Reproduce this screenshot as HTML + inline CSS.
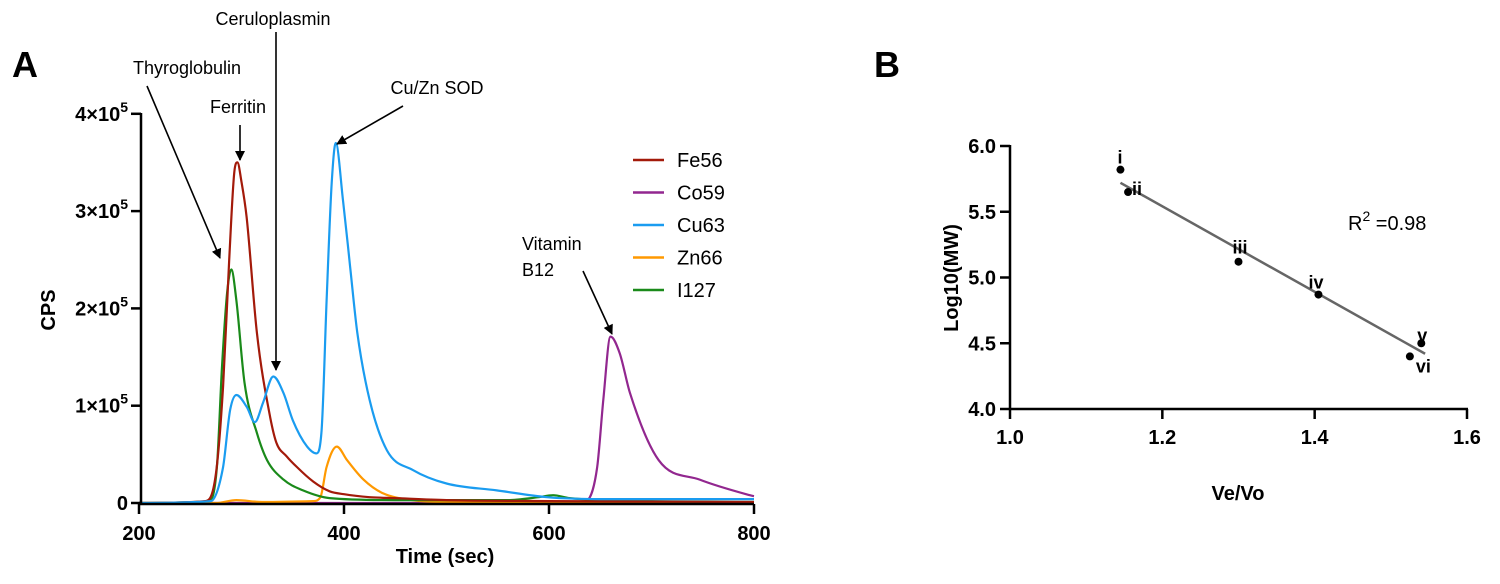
<!DOCTYPE html>
<html><head><meta charset="utf-8"><style>
body{margin:0;background:#fff;}
svg{display:block;font-family:"Liberation Sans",Arial,sans-serif;}
</style></head><body>
<svg id="chart" width="1500" height="584" viewBox="0 0 1500 584"></svg>
<script>
// ---- Panel A data (time s, CPS in units of 1e5) ----
const feT=[200,265,275,282,288,293,296,300,305,315,328,334,344,354,370,386,400,425,450,500,600,800];
const feV=[0,0.02,0.3,1.2,2.5,3.4,3.5,3.3,2.94,1.75,0.88,0.62,0.48,0.37,0.22,0.12,0.09,0.06,0.05,0.03,0.02,0.01];
const iT=[200,268,276,281,286,290,295,303,315,325,341,360,386,450,560,590,604,620,700,800];
const iV=[0,0.02,0.37,1.4,2.16,2.4,2.08,1.23,0.72,0.44,0.24,0.13,0.05,0.03,0.03,0.06,0.08,0.05,0.02,0.01];
const cuT=[200,270,282,289,295,305,313,321,331,341,350,364,373,378,383,388,392,399,406,413,425,442,467,500,549,598,650,800];
const cuV=[0,0.02,0.37,0.96,1.11,0.99,0.83,1.03,1.3,1.13,0.85,0.58,0.51,0.72,2.08,3.29,3.7,3.11,2.43,1.75,1.06,0.54,0.34,0.2,0.13,0.06,0.04,0.04];
const znT=[200,275,295,320,370,377,383,393,403,419,438,467,500,800];
const znV=[0,0,0.03,0.01,0.02,0.06,0.37,0.58,0.44,0.24,0.1,0.03,0.01,0.005];
const coT=[200,630,637,647,653,660,669,679,707,747,796,800];
const coV=[0,0,0.02,0.37,1.06,1.71,1.54,1.13,0.44,0.24,0.08,0.07];
const xTicksA=[200,400,600,800];
const yTicksA=[0,1,2,3,4];
// ---- Panel B data ----
const ptX=[1.145,1.155,1.30,1.405,1.54,1.525];
const ptY=[5.82,5.65,5.12,4.87,4.50,4.40];
const ptLabels=["i","ii","iii","iv","v","vi"];
const fitX=[1.145,1.545];
const fitY=[5.72,4.42];
const xTicksB=[1.0,1.2,1.4,1.6];
const yTicksB=[4.0,4.5,5.0,5.5,6.0];

const NS="http://www.w3.org/2000/svg";
const svg=document.getElementById('chart');
function mk(tag,attrs,parent){const e=document.createElementNS(NS,tag);for(const k in attrs)e.setAttribute(k,attrs[k]);(parent||svg).appendChild(e);return e;}
function txt(s,attrs,parent){const e=mk('text',attrs,parent);e.textContent=s;return e;}

const defs=mk('defs',{});
const mkr=mk('marker',{id:'ah',markerWidth:'10',markerHeight:'10',refX:'9',refY:'5',orient:'auto',markerUnits:'userSpaceOnUse'},defs);
mk('path',{d:'M0,0 L10,5 L0,10 z',fill:'#000'},mkr);

const xA=t=>139+(t-200)*1.025;
const yA=v=>503-v*97.3;

const gA=mk('g',{});


let l=txt('A',{x:12,y:77,'font-size':36,'font-weight':'bold'},gA);


// monotone cubic path
function monoPath(X,Y){
  const n=X.length,d=[],m=[];
  for(let i=0;i<n-1;i++)d.push((Y[i+1]-Y[i])/(X[i+1]-X[i]));
  m[0]=d[0];m[n-1]=d[n-2];
  for(let i=1;i<n-1;i++){m[i]=(d[i-1]*d[i]<=0)?0:(d[i-1]+d[i])/2;}
  for(let i=0;i<n-1;i++){if(d[i]===0){m[i]=0;m[i+1]=0;continue;}
    const a=m[i]/d[i],b=m[i+1]/d[i],s=a*a+b*b;if(s>9){const t=3/Math.sqrt(s);m[i]=t*a*d[i];m[i+1]=t*b*d[i];}}
  let p='M'+X[0].toFixed(1)+','+Y[0].toFixed(1);
  for(let i=0;i<n-1;i++){const h=(X[i+1]-X[i])/3;
    p+='C'+(X[i]+h).toFixed(1)+','+(Y[i]+m[i]*h).toFixed(1)+' '+(X[i+1]-h).toFixed(1)+','+(Y[i+1]-m[i+1]*h).toFixed(1)+' '+X[i+1].toFixed(1)+','+Y[i+1].toFixed(1);}
  return p;
}
function series(T,V,color,name){
  const p=mk('path',{d:monoPath(T.map(xA),V.map(yA)),fill:'none',stroke:color,'stroke-width':2.2,'stroke-linejoin':'round'},gA);
  
  
}
series(coT,coV,'#92278f','series-co59');
series(znT,znV,'#ff9900','series-zn66');
series(iT,iV,'#1a8a1a','series-i127');
series(feT,feV,'#a31a0a','series-fe56');
series(cuT,cuV,'#1a9cf0','series-cu63');

let ax=mk('line',{x1:141,y1:113,x2:141,y2:505,stroke:'#000','stroke-width':2.5},gA);

ax=mk('line',{x1:139,y1:504,x2:754,y2:504,stroke:'#000','stroke-width':2.5},gA);

xTicksA.forEach(t=>{
  mk('line',{x1:xA(t),y1:504,x2:xA(t),y2:514,stroke:'#000','stroke-width':2.5},gA);
  const e=txt(String(t),{x:xA(t),y:540,'font-size':20,'font-weight':'bold','text-anchor':'middle'},gA);
  
});
yTicksA.forEach(v=>{
  mk('line',{x1:131,y1:yA(v),x2:141,y2:yA(v),stroke:'#000','stroke-width':2.5},gA);
  const e=txt('',{x:128,y:yA(v)+7,'font-size':20,'font-weight':'bold','text-anchor':'end'},gA);
  
  if(v===0){e.textContent='0';}
  else{e.textContent=v+'×10';const s=mk('tspan',{dy:-9,'font-size':14},e);s.textContent='5';}
});
l=txt('Time (sec)',{x:445,y:563,'font-size':20,'font-weight':'bold','text-anchor':'middle'},gA);

l=txt('CPS',{x:0,y:0,'font-size':20,'font-weight':'bold','text-anchor':'middle',transform:'translate(55,310) rotate(-90)'},gA);


function ann(label,lines,tx,ty,x1,y1,x2,y2,anchor){
  const g=mk('g',{},gA);
  
  
  lines.forEach((s,i)=>txt(s,{x:tx,y:ty+i*26,'font-size':18,'text-anchor':anchor||'middle'},g));
  mk('line',{x1:x1,y1:y1,x2:x2,y2:y2,stroke:'#000','stroke-width':1.6,'marker-end':'url(#ah)'},g);
}
ann('annotation-thyroglobulin',['Thyroglobulin'],187,74,147,86,220,258);
ann('annotation-ferritin',['Ferritin'],238,113,240,125,240,160);
ann('annotation-ceruloplasmin',['Ceruloplasmin'],273,25,276,32,276,370);
ann('annotation-cuzn-sod',['Cu/Zn SOD'],437,94,403,106,337,144);
ann('annotation-vitamin-b12',['Vitamin','B12'],522,250,583,271,612,334,'start');

const leg=[['Fe56','#a31a0a'],['Co59','#92278f'],['Cu63','#1a9cf0'],['Zn66','#ff9900'],['I127','#1a8a1a']];
leg.forEach((it,i)=>{
  const g=mk('g',{},gA);
  
  
  const y=160+i*32.5;
  mk('line',{x1:633,y1:y,x2:664,y2:y,stroke:it[1],'stroke-width':2.5},g);
  txt(it[0],{x:677,y:y+7,'font-size':20},g);
});

const xB=v=>1010+(v-1.0)/0.6*457;
const yB=v=>409-(v-4.0)/2.0*263;
const gB=mk('g',{});


l=txt('B',{x:874,y:77,'font-size':36,'font-weight':'bold'},gB);

ax=mk('line',{x1:1010,y1:145,x2:1010,y2:410,stroke:'#000','stroke-width':2.5},gB);

ax=mk('line',{x1:1009,y1:409,x2:1468,y2:409,stroke:'#000','stroke-width':2.5},gB);

xTicksB.forEach(v=>{
  mk('line',{x1:xB(v),y1:409,x2:xB(v),y2:419,stroke:'#000','stroke-width':2.5},gB);
  const e=txt(v.toFixed(1),{x:xB(v),y:444,'font-size':20,'font-weight':'bold','text-anchor':'middle'},gB);
  
});
yTicksB.forEach(v=>{
  mk('line',{x1:1000,y1:yB(v),x2:1010,y2:yB(v),stroke:'#000','stroke-width':2.5},gB);
  const e=txt(v.toFixed(1),{x:996,y:yB(v)+7,'font-size':20,'font-weight':'bold','text-anchor':'end'},gB);
  
});
const fit=mk('line',{x1:xB(fitX[0]),y1:yB(fitY[0]),x2:xB(fitX[1]),y2:yB(fitY[1]),stroke:'#666','stroke-width':2.5},gB);

const off=[[-3,-12],[4,-3],[-6,-14],[-10,-12],[-4,-8],[6,10]];
ptX.forEach((x,i)=>{
  const c=mk('circle',{cx:xB(x),cy:yB(ptY[i]),r:4,fill:'#000'},gB);
  
  
  const t=txt(ptLabels[i],{x:xB(x)+off[i][0],y:yB(ptY[i])+off[i][1]+6,'font-size':18,'font-weight':'bold'},gB);
  
});
l=txt('',{x:1348,y:230,'font-size':20},gB);

l.appendChild(document.createTextNode('R'));
let sp=mk('tspan',{dy:-9,'font-size':14},l);sp.textContent='2';
sp=mk('tspan',{dy:9},l);sp.textContent=' =0.98';
l=txt('Ve/Vo',{x:1238,y:500,'font-size':20,'font-weight':'bold','text-anchor':'middle'},gB);

l=txt('Log10(MW)',{x:0,y:0,'font-size':20,'font-weight':'bold','text-anchor':'middle',transform:'translate(958,278) rotate(-90)'},gB);

</script>
</body></html>
